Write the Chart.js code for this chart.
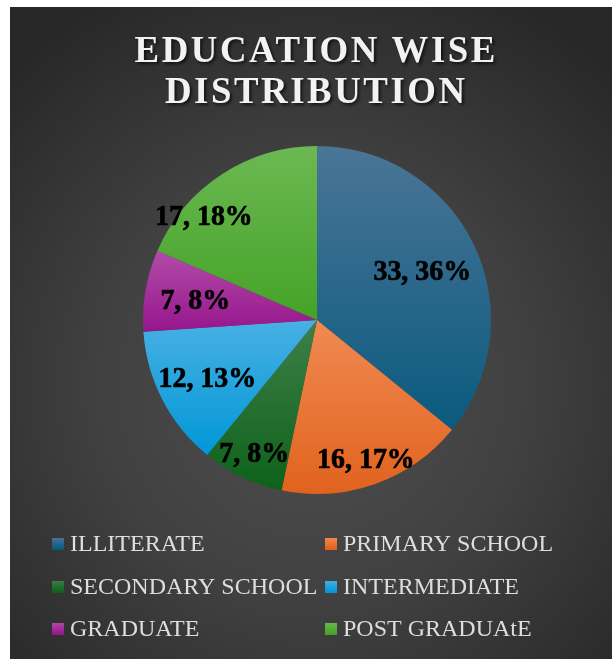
<!DOCTYPE html>
<html>
<head>
<meta charset="utf-8">
<title>Education Wise Distribution</title>
<script src="https://cdn.jsdelivr.net/npm/chart.js@4.4.0/dist/chart.umd.min.js"></script>
<style>
    html, body { margin: 0; padding: 0; background: #fff; }
    .chart-box {
        position: absolute;
        left: 10px;
        top: 7px;
        width: 602px;
        height: 652px;
        background: radial-gradient(ellipse 72% 68% at 50% 58%, #4f4f4f 0%, #404040 50%, #272727 100%);
    }
    canvas { display: block; }
</style>
</head>
<body>
<div class="chart-box"><canvas id="eduChart" width="602" height="652"></canvas></div>
<script>
// Data
const categories = ['ILLITERATE', 'PRIMARY SCHOOL', 'SECONDARY SCHOOL', 'INTERMEDIATE', 'GRADUATE', 'POST GRADUAtE'];
const counts = [33, 16, 7, 12, 7, 17];
const titleLines = ['EDUCATION WISE', 'DISTRIBUTION'];

// Slice colours (top / bottom of the vertical gradient)
const sliceTop = ['#4a7596', '#f08a52', '#3f7f49', '#48b0e4', '#b24ca8', '#6cb853'];
const sliceBottom = ['#0a5a7f', '#e1621e', '#0d6219', '#0097d7', '#96168d', '#44a326'];

// Where each value label sits: fraction of radius, angle shift in degrees
const labelPlacement = [
    { radius: 0.67, shift: 0 },
    { radius: 0.84, shift: 0 },
    { radius: 0.84, shift: 0 },
    { radius: 0.71, shift: 0 },
    { radius: 0.71, shift: 0 },
    { radius: 0.885, shift: -14 }
];

const serif = '"Liberation Serif", "Times New Roman", serif';
const total = counts.reduce((a, b) => a + b, 0);

// Vertical gradient across the bounding box of one slice
function sliceFill(context) {
    const chart = context.chart;
    const area = chart.chartArea;
    const i = context.dataIndex;
    if (!area) return sliceBottom[i];
    const cx = (area.left + area.right) / 2;
    const cy = (area.top + area.bottom) / 2;
    const r = Math.min(area.width, area.height) / 2;
    let start = -Math.PI / 2;
    for (let j = 0; j < i; j++) start += counts[j] / total * Math.PI * 2;
    const end = start + counts[i] / total * Math.PI * 2;
    const ys = [cy, cy + r * Math.sin(start), cy + r * Math.sin(end)];
    [-Math.PI / 2, Math.PI / 2, Math.PI * 1.5].forEach(a => {
        if (a > start && a < end) ys.push(cy + r * Math.sin(a));
    });
    const g = chart.ctx.createLinearGradient(0, Math.min(...ys), 0, Math.max(...ys));
    g.addColorStop(0, sliceTop[i]);
    g.addColorStop(1, sliceBottom[i]);
    return g;
}

const titlePlugin = {
    id: 'excelTitle',
    afterDraw(chart) {
        const ctx = chart.ctx;
        ctx.save();
        ctx.font = 'bold 38px ' + serif;
        ctx.letterSpacing = '2.6px';
        ctx.fillStyle = '#f2f2f2';
        ctx.textAlign = 'left';
        ctx.textBaseline = 'alphabetic';
        ctx.shadowColor = 'rgba(0, 0, 0, 0.65)';
        ctx.shadowOffsetX = 2;
        ctx.shadowOffsetY = 2;
        ctx.shadowBlur = 3;
        const baselines = [62, 103];
        const sx = 0.97;
        titleLines.forEach((line, k) => {
            const w = (ctx.measureText(line).width - 2.6) * sx;
            ctx.save();
            ctx.translate(305 - w / 2, baselines[k] - 7);
            ctx.scale(sx, 1);
            ctx.fillText(line, 0, 0);
            ctx.restore();
        });
        ctx.restore();
    }
};

const labelPlugin = {
    id: 'sliceLabels',
    afterDatasetsDraw(chart) {
        const ctx = chart.ctx;
        const meta = chart.getDatasetMeta(0);
        ctx.save();
        ctx.font = 'bold 30px ' + serif;
        ctx.fillStyle = '#000';
        ctx.strokeStyle = '#000';
        ctx.lineWidth = 0.7;
        ctx.textAlign = 'center';
        ctx.textBaseline = 'alphabetic';
        meta.data.forEach((arc, i) => {
            const p = labelPlacement[i];
            const mid = (arc.startAngle + arc.endAngle) / 2 + p.shift * Math.PI / 180;
            const r = arc.outerRadius * p.radius;
            const pct = Math.round(counts[i] / total * 100);
            const text = counts[i] + ', ' + pct + '%';
            ctx.save();
            ctx.translate(arc.x + Math.cos(mid) * r, arc.y + Math.sin(mid) * r + 10);
            ctx.scale(0.93, 1);
            ctx.fillText(text, 0, 0);
            ctx.strokeText(text, 0, 0);
            ctx.restore();
        });
        ctx.restore();
    }
};

// Two-column legend like the Excel one
const legendPlugin = {
    id: 'gridLegend',
    afterDraw(chart) {
        const ctx = chart.ctx;
        const colX = [42, 315];
        const rowY = [536, 579, 621];
        const box = 12;
        ctx.save();
        ctx.font = '24px ' + serif;
        ctx.textAlign = 'left';
        ctx.textBaseline = 'alphabetic';
        chart.data.labels.forEach((label, i) => {
            const x = colX[i % 2];
            const y = rowY[Math.floor(i / 2)];
            const g = ctx.createLinearGradient(0, y - box / 2, 0, y + box / 2);
            g.addColorStop(0, sliceTop[i]);
            g.addColorStop(1, sliceBottom[i]);
            ctx.fillStyle = g;
            ctx.fillRect(x, y - box / 2 + 1, box, box);
            ctx.fillStyle = '#dedede';
            ctx.fillText(label, x + box + 6, y + 8);
        });
        ctx.restore();
    }
};

new Chart(document.getElementById('eduChart'), {
    type: 'pie',
    data: {
        labels: categories,
        datasets: [{
            data: counts,
            backgroundColor: sliceFill,
            borderWidth: 0
        }]
    },
    options: {
        responsive: false,
        animation: false,
        layout: { padding: { left: 12, right: 0, top: 139, bottom: 165 } },
        plugins: {
            legend: { display: false },
            title: { display: false },
            tooltip: { enabled: false }
        }
    },
    plugins: [labelPlugin, titlePlugin, legendPlugin]
});
</script>
</body>
</html>
